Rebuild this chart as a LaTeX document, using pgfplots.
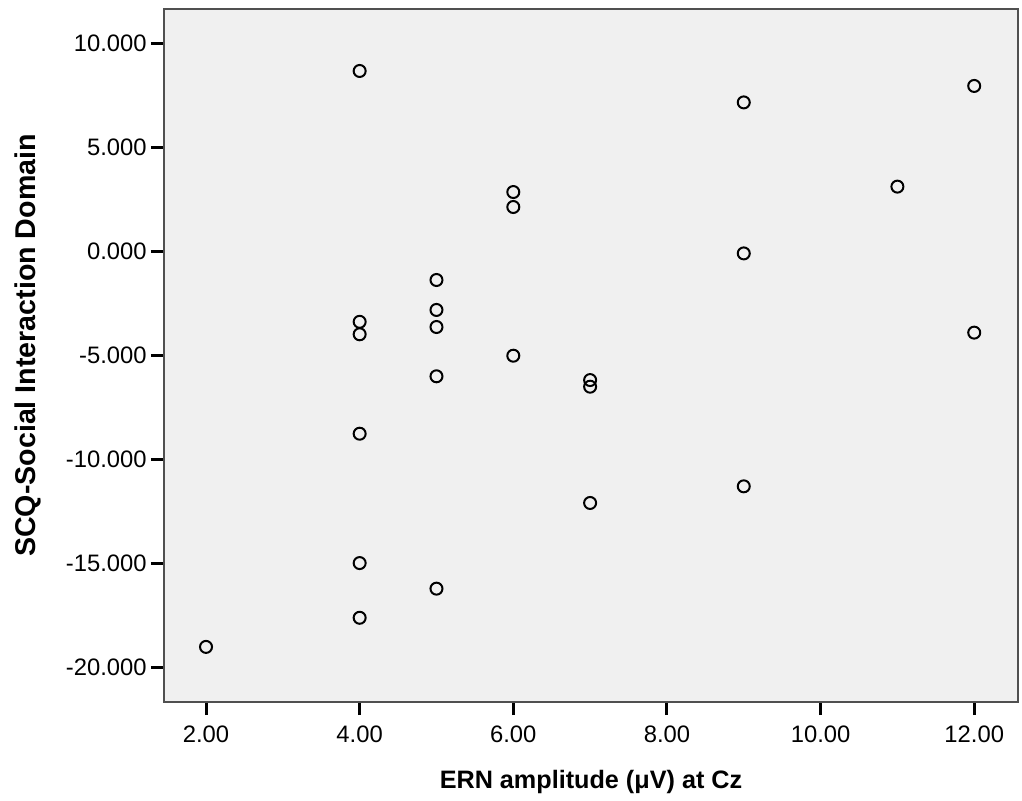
\documentclass[border=0pt]{standalone}
\usepackage{fontspec}
\setmainfont{Liberation Sans}
\usepackage{pgfplots}
\pgfplotsset{compat=1.18}
\definecolor{bgc}{HTML}{F0F0F0}
\definecolor{framec}{HTML}{505050}
\begin{document}
\begin{tikzpicture}
\begin{axis}[
  name=ax,
  scale only axis,
  width=427pt, height=346.5pt,
  xmin=1.453, xmax=12.57,
  ymin=-21.67, ymax=11.65,
  axis background/.style={fill=bgc},
  axis line style={framec, line width=0.6pt},
  xtick={2,4,6,8,10,12},
  xticklabels={2.00,4.00,6.00,8.00,10.00,12.00},
  ytick={-20,-15,-10,-5,0,5,10},
  yticklabels={-20.000,-15.000,-10.000,-5.000,0.000,5.000,10.000},
  tick align=outside,
  xtick pos=left, ytick pos=left,
  major tick length=6.5pt,
  tick style={black, line width=1.5pt},
  ticklabel style={font=\fontsize{11.9}{13}\selectfont},
  yticklabel style={inner xsep=2pt},
  xticklabel style={yshift=-2pt},
  xlabel={ERN amplitude (μV) at Cz},
  ylabel={SCQ-Social Interaction Domain},
  xlabel style={font=\fontsize{12.6}{14}\selectfont\bfseries, at={(axis description cs:0.5,0)}, anchor=base, yshift=-43pt},
  ylabel style={font=\fontsize{14.3}{16}\selectfont\bfseries, at={(axis description cs:-0.151,0.5144)}, anchor=base},
]
\addplot[only marks, mark=o, mark size=3pt, mark options={black, line width=1pt}] coordinates {
(2,-19.02)
(4,8.67) (4,-3.39) (4,-3.99) (4,-8.77) (4,-14.99) (4,-17.62)
(5,-1.38) (5,-2.82) (5,-3.64) (5,-6.01) (5,-16.22)
(6,2.85) (6,2.13) (6,-5.02)
(7,-6.19) (7,-6.51) (7,-12.10)
(9,7.16) (9,-0.10) (9,-11.30)
(11,3.11)
(12,7.95) (12,-3.91)
};
\end{axis}
\path (ax.south west) ++(-82pt,-49pt) coordinate (a);
\path (ax.north east) ++(2pt,4.5pt) coordinate (b);
\path (a) rectangle (b);
\end{tikzpicture}
\end{document}
